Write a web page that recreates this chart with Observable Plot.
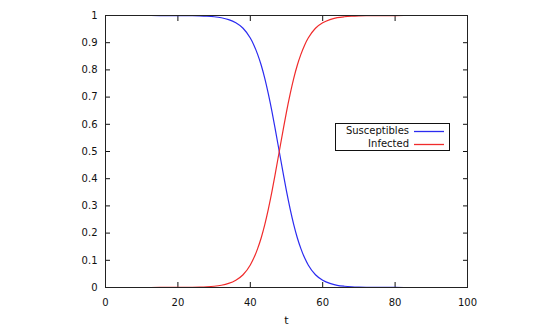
<!DOCTYPE html>
<html>
<head>
<meta charset="utf-8">
<script src="https://cdn.jsdelivr.net/npm/d3@7"></script>
<script src="https://cdn.jsdelivr.net/npm/@observablehq/plot@0.6"></script>
<style>
  html, body { margin: 0; padding: 0; background: #fff; }
  #wrap { position: relative; width: 550px; height: 330px; font-family: "DejaVu Sans", sans-serif; }
  #legend { position: absolute; left: 335px; top: 123px; width: 113px; height: 26px; border: 1px solid #111; background: #fff; }
  .row { position: absolute; left: 0; height: 12px; width: 113px; }
  .row span { position: absolute; right: 40px; top: 0; font-size: 10px; line-height: 12px; color: #111; white-space: nowrap; }
  .row svg { position: absolute; left: 78px; top: 0; }
</style>
</head>
<body>
<div id="wrap">
  <div id="chart"></div>
  <div id="legend"></div>
</div>
<script>
// ---- data ----
const tValues = [0, 5, 10, 15, 20, 22, 24, 26, 28, 30, 32, 34, 36, 38, 40,
  41, 42, 43, 44, 45, 46, 47, 48, 49, 50, 51, 52, 53, 54, 55, 56,
  58, 60, 62, 64, 66, 68, 70, 72, 75, 80, 85, 90, 95, 100];
const susceptibles = [1, 1, 1, 0.9999, 0.9998, 0.9996, 0.9992, 0.9986, 0.9975, 0.9955,
  0.9918, 0.985, 0.973, 0.953, 0.917,
  0.891, 0.858, 0.818, 0.769, 0.711, 0.646, 0.574, 0.5, 0.426, 0.354, 0.289, 0.231, 0.182, 0.142, 0.109, 0.083,
  0.047, 0.027, 0.015, 0.008, 0.0045, 0.0025, 0.0014, 0.0008, 0.0003, 0.0001, 0, 0, 0, 0];
const infected = [0, 0, 0, 0.0001, 0.0002, 0.0004, 0.0008, 0.0014, 0.0025, 0.0045,
  0.0082, 0.015, 0.027, 0.047, 0.083,
  0.109, 0.142, 0.182, 0.231, 0.289, 0.354, 0.426, 0.5, 0.574, 0.646, 0.711, 0.769, 0.818, 0.858, 0.891, 0.917,
  0.953, 0.973, 0.985, 0.992, 0.9955, 0.9975, 0.9986, 0.9992, 0.9997, 0.9999, 1, 1, 1, 1];
const seriesNames = ["Susceptibles", "Infected"];
const seriesColors = ["#2b2bf0", "#f02b2b"];
const xTicks = [0, 20, 40, 60, 80, 100];
const yTicks = [0, 0.1, 0.2, 0.3, 0.4, 0.5, 0.6, 0.7, 0.8, 0.9, 1];
const xLabel = "t";

// ---- build table ----
const rows = [];
[susceptibles, infected].forEach((vals, k) => {
  tValues.forEach((t, i) => rows.push({series: seriesNames[k], t, v: vals[i]}));
});

const chart = Plot.plot({
  width: 550,
  height: 330,
  marginLeft: 105,
  marginRight: 83,
  marginTop: 15,
  marginBottom: 43,
  style: {fontFamily: "DejaVu Sans, sans-serif", fontSize: "10px", color: "#111", background: "#fff"},
  x: {domain: [0, 100]},
  y: {domain: [0, 1]},
  marks: [
    Plot.axisX({ticks: xTicks, tickSize: -5, tickPadding: 16, label: null, tickFormat: d => String(d)}),
    Plot.axisX({anchor: "top", ticks: xTicks, tickSize: -5, tickFormat: () => "", label: null}),
    Plot.axisY({ticks: yTicks, tickSize: -5, tickPadding: 13, label: null, tickFormat: d => String(d)}),
    Plot.axisY({anchor: "right", ticks: yTicks, tickSize: -5, tickFormat: () => "", label: null}),
    Plot.line(rows.filter(d => d.series === seriesNames[0]), {x: "t", y: "v", stroke: seriesColors[0], strokeWidth: 1.2, curve: "monotone-x"}),
    Plot.line(rows.filter(d => d.series === seriesNames[1]), {x: "t", y: "v", stroke: seriesColors[1], strokeWidth: 1.2, curve: "monotone-x"}),
    Plot.frame({stroke: "#222", strokeWidth: 1}),
    Plot.text([xLabel], {frameAnchor: "bottom", dy: 36, fontSize: 11, fill: "#111"})
  ]
});
document.getElementById("chart").appendChild(chart);

// ---- legend ----
const legend = document.getElementById("legend");
seriesNames.forEach((name, k) => {
  const row = document.createElement("div");
  row.className = "row";
  row.style.top = (1 + k * 12.6) + "px";
  const s = document.createElement("span");
  s.textContent = name;
  row.appendChild(s);
  const svg = d3.create("svg").attr("width", 30).attr("height", 12);
  svg.append("line").attr("x1", 0).attr("x2", 30).attr("y1", 6.5).attr("y2", 6.5)
    .attr("stroke", seriesColors[k]).attr("stroke-width", 1.3);
  row.appendChild(svg.node());
  legend.appendChild(row);
});
</script>
</body>
</html>
